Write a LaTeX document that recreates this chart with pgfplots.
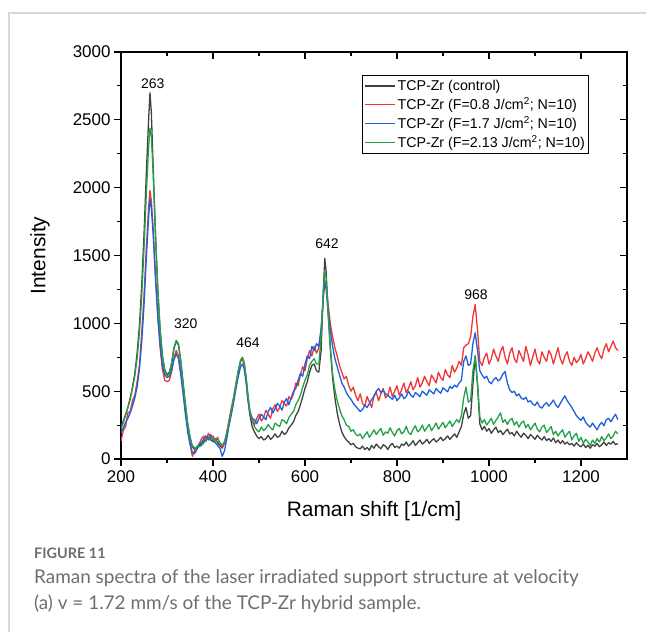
\documentclass[border=0pt]{standalone}
\usepackage{pgfplots}
\pgfplotsset{compat=1.18}
\usepackage{pgfplotstable}
\usepackage{fontspec}
\setmainfont{Liberation Sans}
\newfontfamily\capfont{Lato}

\definecolor{ck}{RGB}{65,65,65}
\definecolor{cr}{RGB}{240,55,55}
\definecolor{cb}{RGB}{30,95,220}
\definecolor{cg}{RGB}{35,160,75}
\definecolor{capgray}{RGB}{110,110,110}

% x, control, 0.8, 1.7, 2.13 J/cm2
\pgfplotstableread{
x k r b g
200 240 130 190 220
205 280 210 230 270
210 330 240 270 320
215 380 340 300 380
220 450 350 340 440
225 530 430 390 520
230 630 470 450 610
235 780 570 530 740
240 980 690 660 930
245 1280 930 860 1200
250 1650 1200 1130 1550
255 2100 1550 1480 1950
260 2500 1850 1780 2300
263 2700 1980 1920 2440
266 2550 1900 1850 2380
270 2150 1700 1650 2100
275 1650 1350 1330 1650
280 1250 1050 1050 1250
285 950 820 850 960
290 760 660 690 760
295 660 580 620 650
300 620 570 600 610
305 640 580 610 630
310 700 640 660 710
315 810 740 730 820
320 870 800 775 875
325 840 760 740 850
330 720 640 620 720
335 560 500 480 560
340 400 360 330 400
345 260 230 200 260
350 160 120 110 160
355 90 20 50 100
360 70 60 40 80
365 80 90 70 90
370 100 110 110 90
375 110 150 120 100
380 130 170 150 120
385 150 130 170 140
390 160 190 140 150
395 140 150 180 160
400 130 170 130 150
405 150 140 120 130
410 120 160 100 150
415 100 110 80 120
420 80 90 20 100
425 120 110 60 130
430 180 200 150 190
435 260 290 250 270
440 350 380 330 360
445 440 460 420 450
450 540 560 520 550
455 640 650 610 650
460 720 720 680 730
464 745 740 700 750
468 700 690 660 710
472 590 600 560 600
476 450 460 430 470
480 330 360 340 360
485 240 300 300 280
490 200 250 290 240
495 170 300 260 215
500 150 330 300 200
505 165 280 330 235
510 140 305 310 210
515 150 360 290 225
520 175 330 350 255
525 145 300 380 230
530 160 370 340 215
535 185 400 370 265
540 160 350 410 250
545 170 380 390 240
550 205 430 360 290
555 180 410 420 280
560 195 390 445 260
565 230 460 400 305
570 250 440 450 330
575 275 480 500 350
580 320 560 520 400
585 350 540 580 430
590 400 620 630 470
595 460 680 610 530
600 520 650 700 580
605 570 740 760 620
610 640 800 740 690
615 690 760 830 720
620 700 830 800 740
625 650 780 850 700
630 640 820 830 700
635 800 950 960 900
640 1250 1200 1200 1250
643 1480 1320 1300 1390
646 1380 1280 1250 1330
650 1100 1150 1100 1080
655 820 1000 950 820
660 600 900 830 630
665 450 820 740 510
670 340 760 680 430
675 260 690 620 370
680 200 640 560 320
685 165 590 530 290
690 140 610 490 250
695 125 540 460 240
700 105 500 440 205
705 115 530 410 215
710 90 470 390 185
715 80 430 370 170
720 75 480 350 185
725 95 410 365 150
730 70 390 395 175
735 85 460 380 200
740 65 420 410 160
745 100 380 440 185
750 80 470 460 215
755 110 490 500 180
760 90 430 520 205
765 75 480 490 225
770 105 520 505 175
775 95 450 480 200
780 70 470 470 190
785 100 530 455 230
790 115 460 440 195
795 85 500 470 170
800 95 540 430 210
805 80 470 450 225
810 110 510 480 185
815 100 560 445 200
820 125 490 460 240
825 95 520 500 195
830 110 570 470 180
835 135 510 455 220
840 100 540 490 245
845 120 600 475 200
850 140 530 460 215
855 110 560 500 250
860 125 610 485 205
865 145 570 470 230
870 115 540 510 255
875 135 620 495 210
880 150 590 480 235
885 125 560 520 265
890 140 640 500 220
895 160 600 485 245
900 135 580 525 270
905 150 660 510 230
910 170 620 495 255
915 145 600 535 280
920 165 690 520 240
925 185 640 545 265
930 160 670 530 290
935 200 720 560 270
940 240 690 580 320
945 330 820 720 450
950 380 840 760 530
955 300 850 690 420
960 320 900 700 430
965 550 1050 850 650
970 760 1140 930 760
975 550 950 800 560
980 260 720 650 310
985 215 690 620 265
990 240 750 595 290
995 205 780 610 250
1000 225 700 570 275
1005 190 740 555 300
1010 215 810 585 255
1015 235 760 600 285
1020 195 720 575 310
1025 210 790 590 340
1030 180 830 625 270
1035 200 750 645 290
1040 220 700 560 255
1045 185 780 510 285
1050 195 820 490 300
1055 170 740 500 250
1060 205 710 465 275
1065 180 800 480 235
1070 160 760 450 265
1075 190 720 440 280
1080 175 830 455 230
1085 150 770 420 255
1090 180 690 430 215
1095 165 750 405 240
1100 145 810 395 265
1105 175 730 420 220
1110 155 700 385 200
1115 140 790 375 235
1120 165 750 400 250
1125 135 720 415 195
1130 150 800 390 215
1135 130 770 410 240
1140 155 700 435 180
1145 120 760 400 205
1150 140 820 380 170
1155 115 740 410 195
1160 135 700 440 215
1165 110 760 465 160
1170 125 790 430 185
1175 105 720 405 205
1180 115 690 380 140
1185 95 750 350 170
1190 120 710 320 190
1195 100 730 300 130
1200 90 770 285 160
1205 110 700 310 115
1210 85 740 270 145
1215 100 790 250 125
1220 80 760 235 100
1225 105 720 265 140
1230 95 780 240 115
1235 115 820 215 150
1240 90 770 250 125
1245 105 740 270 165
1250 125 810 245 135
1255 100 850 290 155
1260 120 790 300 185
1265 110 830 275 150
1270 130 870 305 170
1275 105 820 330 205
1280 115 800 290 185
}\spectra

\begin{document}
\begin{tikzpicture}
\useasboundingbox (0,0) rectangle (646bp,-632bp);
\draw[line width=1.2bp, color=black!15] (9bp,-632bp) -- (9bp,-13bp) -- (646bp,-13bp);

\pgfplotsset{
  ramanbox/.style={
    scale only axis,
    width=506bp, height=407bp,
    at={(121bp,-459bp)}, anchor=south west,
    xmin=200, xmax=1300, ymin=0, ymax=3000,
    xtick={200,400,...,1200}, ytick={0,500,...,3000},
    minor x tick num=1, minor y tick num=1,
    major tick length=7bp, minor tick length=4bp,
    axis line style={line width=1.3bp},
    every tick/.style={line width=1.1bp, black},
  }
}

% top and right ticks point inwards
\begin{axis}[ramanbox,
  tick align=inside, xtick pos=right, ytick pos=right,
  xticklabels={}, yticklabels={}]
\end{axis}

\begin{axis}[ramanbox,
  tick align=outside, xtick pos=left, ytick pos=left,
  /pgf/number format/assume math mode=true,
  /pgf/number format/1000 sep={},
  tick label style={font=\fontsize{17}{17}\selectfont},
  xticklabel style={yshift=-1bp},
  xlabel={Raman shift [1/cm]},
  ylabel={Intensity},
  label style={font=\fontsize{21}{21}\selectfont},
  xlabel style={at={(rel axis cs:0.5,-0.128)}, anchor=center},
  ylabel style={at={(rel axis cs:-0.160,0.5)}, anchor=center},
  legend cell align=left,
  legend image code/.code={\draw[#1, line width=1.3bp] (0bp,0bp) -- (30bp,0bp);},
  legend style={at={(0.476,0.943)}, anchor=north west,
    draw=black, line width=0.8bp,
    font=\fontsize{14.3}{17}\selectfont,
    inner xsep=2bp, inner ysep=2.5bp, row sep=1.5bp},
  every axis plot/.append style={line width=1.3bp, line join=round},
]
\addplot[ck] table[x=x, y=k] {\spectra};
\addlegendentry{TCP-Zr (control)}
\addplot[cr] table[x=x, y=r] {\spectra};
\addlegendentry{TCP-Zr (F=0.8 J/cm\textsuperscript{2}; N=10)}
\addplot[cb] table[x=x, y=b] {\spectra};
\addlegendentry{TCP-Zr (F=1.7 J/cm\textsuperscript{2}; N=10)}
\addplot[cg] table[x=x, y=g] {\spectra};
\addlegendentry{TCP-Zr (F=2.13 J/cm\textsuperscript{2}; N=10)}

\begin{scope}[every node/.style={font=\fontsize{14}{14}\selectfont, anchor=center}]
\node at (axis cs:269,2764) {263};
\node at (axis cs:341,995) {320};
\node at (axis cs:476,855) {464};
\node at (axis cs:648,1585) {642};
\node at (axis cs:972,1209) {968};
\end{scope}
\end{axis}

\node[anchor=base west, inner sep=0, text=capgray, font=\capfont\bfseries\fontsize{14.5}{14.5}\selectfont] at (34bp,-558bp) {FIGURE 11};
\node[anchor=base west, inner sep=0, text=capgray, font=\capfont\fontsize{19}{19}\selectfont] at (34bp,-583bp) {Raman spectra of the laser irradiated support structure at velocity};
\node[anchor=base west, inner sep=0, text=capgray, font=\capfont\fontsize{19}{19}\selectfont] at (34bp,-609bp) {(a) v = 1.72 mm/s of the TCP-Zr hybrid sample.};
\end{tikzpicture}
\end{document}
